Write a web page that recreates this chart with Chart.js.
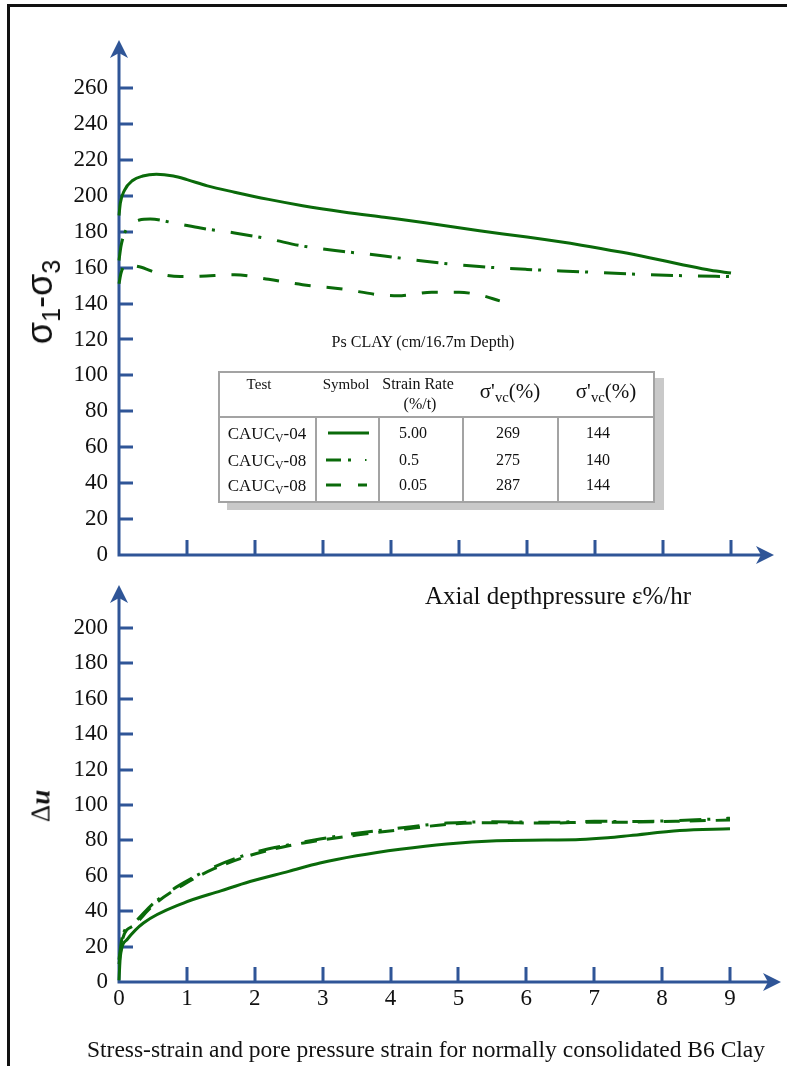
<!DOCTYPE html>
<html>
<head>
<meta charset="utf-8">
<script src="https://cdn.jsdelivr.net/npm/chart.js@4.4.0/dist/chart.umd.min.js"></script>
<style>
  html, body { margin: 0; padding: 0; background: #fff; }
  #page { position: relative; width: 787px; height: 1066px; overflow: hidden; font-family: "Liberation Serif", "DejaVu Serif", serif; color: #111; }
  #frame { position: absolute; left: 7px; top: 4px; width: 800px; height: 1100px; border-left: 3px solid #111; border-top: 3px solid #111; }
  canvas { position: absolute; left: 0; }
  .t { position: absolute; transform: translate(-50%, -50%); white-space: nowrap; line-height: 1; }
  .ln { position: absolute; background: #a3a3a3; }
  #legendBox { position: absolute; left: 218px; top: 371px; width: 437px; height: 132px; box-sizing: border-box; border: 2px solid #a3a3a3; background: #fff; box-shadow: 9px 7px 0 #c9c9c9; }
  sub { font-size: 0.7em; vertical-align: -0.3em; line-height: 0; }
</style>
</head>
<body>
<div id="page">
  <div id="frame"></div>
  <canvas id="stressChart" width="787" height="580" style="top:0"></canvas>
  <canvas id="poreChart" width="787" height="486" style="top:580px"></canvas>

  <!-- axis titles -->
  <div class="t" style="left:40px;top:302px;transform:translate(-50%,-50%) rotate(-90deg);font-size:36px;font-family:'Liberation Sans',sans-serif;">σ<sub>1</sub>-σ<sub>3</sub></div>
  <div class="t" style="left:41px;top:806px;transform:translate(-50%,-50%) rotate(-90deg);font-size:27px;">Δ<b><i>u</i></b></div>
  <div class="t" style="left:558px;top:595px;font-size:25px;">Axial depthpressure ε%/hr</div>
  <div class="t" style="left:423px;top:342px;font-size:16px;">Ps CLAY (cm/16.7m Depth)</div>
  <div class="t" style="left:426px;top:1050px;font-size:23.5px;">Stress-strain and pore pressure strain for normally consolidated B6 Clay</div>

  <!-- test legend table -->
  <div id="legendBox"></div>
  <div class="ln" style="left:220px;top:416px;width:433px;height:2px"></div>
  <div class="ln" style="left:315px;top:418px;width:2px;height:83px"></div>
  <div class="ln" style="left:378px;top:418px;width:2px;height:83px"></div>
  <div class="ln" style="left:462px;top:418px;width:2px;height:83px"></div>
  <div class="ln" style="left:557px;top:418px;width:2px;height:83px"></div>
  <div id="legendText"></div>
  <svg style="position:absolute;left:0;top:0" width="787" height="1066">
    <g stroke="#0a6a0a" stroke-width="3">
      <line x1="328" y1="433" x2="369" y2="433"/>
      <line x1="326" y1="460" x2="341" y2="460"/>
      <line x1="348" y1="460" x2="351" y2="460"/>
      <line x1="365" y1="460" x2="366.5" y2="460" stroke-width="2"/>
      <line x1="326" y1="485" x2="341" y2="485"/>
      <line x1="358" y1="485" x2="367" y2="485"/>
    </g>
  </svg>
</div>

<script>
// stress difference σ1-σ3 vs axial strain
const strainRate500X = [0, 0.02, 0.08, 0.2, 0.35, 0.55, 0.8, 1.0, 1.3, 1.7, 2.2, 2.7, 3.3, 3.9, 4.5, 5.3, 6.0, 6.8, 7.4, 7.8, 8.3, 8.7, 9.0];
const strainRate500Y = [189, 196, 203, 208.5, 211, 212, 211, 209, 205.5, 202, 198, 194.5, 191, 188, 185, 180.5, 177, 172.5, 168.5, 165.5, 161.5, 158.5, 157];
const strainRate05X = [0, 0.03, 0.08, 0.19, 0.3, 0.46, 0.85, 1.2, 1.7, 2.2, 2.7, 3.3, 3.9, 4.5, 5.3, 6.0, 6.8, 7.5, 8.3, 9.0];
const strainRate05Y = [164, 172, 179, 184.5, 186.5, 187, 184.5, 182, 179.3, 176, 172, 169, 166.5, 163.5, 160.6, 159, 157.7, 156.5, 155.5, 155];
const strainRate005X = [0, 0.03, 0.1, 0.3, 0.6, 0.9, 1.2, 1.7, 2.2, 2.7, 3.3, 3.8, 4.1, 4.6, 5.0, 5.3, 5.6];
const strainRate005Y = [151, 157, 161.5, 160.5, 156.5, 155, 155.2, 156, 153.5, 150.5, 148, 145, 144.3, 146.3, 146.3, 144.8, 141.5];

// pore pressure Δu vs axial strain
const poreRate500X = [0, 0.02, 0.12, 0.36, 0.95, 1.5, 1.93, 2.5, 2.96, 3.5, 4.14, 4.83, 5.56, 6.3, 6.79, 7.2, 7.52, 8.26, 9.0];
const poreRate500Y = [1, 14.5, 24, 33.3, 44.6, 51.5, 56.8, 62.5, 67.2, 71.3, 75, 78, 79.8, 80.2, 80.5, 81.5, 82.7, 85.6, 86.6];
const poreRate05X = [0, 0.05, 0.22, 0.51, 0.95, 1.4, 1.93, 2.5, 2.96, 3.5, 4.14, 4.83, 5.5, 6.3, 7.0, 7.52, 8.2, 9.0];
const poreRate05Y = [12.6, 25.8, 33.3, 44.6, 56, 65, 72.5, 77.5, 80.8, 84, 87, 89.8, 90.5, 90.2, 90.8, 90.7, 91.2, 92.5];
const poreRate005X = [0, 0.05, 0.22, 0.51, 0.95, 1.4, 1.93, 2.5, 2.96, 3.5, 4.14, 4.83, 5.5, 6.3, 7.0, 7.52, 8.2, 9.0];
const poreRate005Y = [10, 24, 32, 43.5, 55, 64, 71.5, 77, 80, 83, 86, 89, 90, 89.8, 90.3, 90.3, 90.8, 91.5];

// legend table rows
const testNames = ['CAUC', 'CAUC', 'CAUC'];
const testSuffix = ['-04', '-08', '-08'];
const strainRates = ['5.00', '0.5', '0.05'];
const sigmaVc1 = ['269', '275', '287'];
const sigmaVc2 = ['144', '140', '144'];

const green = '#0a6a0a';
const axisBlue = '#2f5597';
const tickFont = { family: 'Liberation Serif', size: 23 };

function toPoints(xs, ys) {
  return xs.map((v, i) => ({ x: v, y: ys[i] }));
}

function series(xs, ys, dash) {
  return {
    data: toPoints(xs, ys),
    borderColor: green,
    borderWidth: 3,
    borderDash: dash,
    pointRadius: 0,
    fill: false,
    cubicInterpolationMode: 'monotone',
    clip: false
  };
}

// axes with arrow heads and inward ticks
const axisArrows = {
  id: 'axisArrows',
  beforeDatasetsDraw(chart, args, opts) {
    const { ctx, scales: { x, y } } = chart;
    const x0 = x.getPixelForValue(0);
    const y0 = y.getPixelForValue(0);
    ctx.save();
    ctx.strokeStyle = axisBlue;
    ctx.fillStyle = axisBlue;
    ctx.lineWidth = 3;
    ctx.beginPath();
    ctx.moveTo(x0, y0 + 1.5);
    ctx.lineTo(x0, opts.yTip + 10);
    ctx.moveTo(x0 - 1.5, y0);
    ctx.lineTo(opts.xTip - 10, y0);
    y.ticks.forEach(t => {
      if (t.value === 0) return;
      const py = Math.round(y.getPixelForValue(t.value));
      ctx.moveTo(x0, py);
      ctx.lineTo(x0 + 14, py);
    });
    x.ticks.forEach(t => {
      if (t.value === 0) return;
      const px = Math.round(x.getPixelForValue(t.value));
      ctx.moveTo(px, y0);
      ctx.lineTo(px, y0 - 15);
    });
    ctx.stroke();

    // up arrow
    let tip = opts.yTip;
    ctx.beginPath();
    ctx.moveTo(x0, tip);
    ctx.lineTo(x0 + 9, tip + 18);
    ctx.lineTo(x0, tip + 13);
    ctx.lineTo(x0 - 9, tip + 18);
    ctx.closePath();
    ctx.fill();
    // right arrow
    tip = opts.xTip;
    ctx.beginPath();
    ctx.moveTo(tip, y0);
    ctx.lineTo(tip - 18, y0 - 9);
    ctx.lineTo(tip - 13, y0);
    ctx.lineTo(tip - 18, y0 + 9);
    ctx.closePath();
    ctx.fill();
    ctx.restore();
  }
};

function makeChart(id, datasets, yMax, showX, pad, xHeight, xTip, yTip) {
  return new Chart(document.getElementById(id), {
    type: 'line',
    data: { datasets },
    plugins: [axisArrows],
    options: {
      responsive: false,
      animation: false,
      devicePixelRatio: 1,
      layout: { padding: pad },
      plugins: {
        legend: { display: false },
        tooltip: { enabled: false },
        axisArrows: { xTip, yTip }
      },
      scales: {
        x: {
          type: 'linear', min: 0, max: 9,
          grid: { display: false, drawTicks: false },
          border: { display: false },
          ticks: { display: showX, stepSize: 1, font: tickFont, color: '#111', padding: 3, maxRotation: 0 },
          afterFit(s) { s.height = xHeight; }
        },
        y: {
          min: 0, max: yMax,
          grid: { display: false, drawTicks: false },
          border: { display: false },
          ticks: { stepSize: 20, font: tickFont, color: '#111', padding: 11 },
          afterFit(s) { s.width = 119; }
        }
      }
    }
  });
}

makeChart('stressChart', [
  series(strainRate500X, strainRate500Y, []),
  series(strainRate05X, strainRate05Y, [22, 6, 3, 16]),
  series(strainRate005X, strainRate005Y, [16, 16])
], 260, false, { left: 0, top: 88, right: 56, bottom: 0 }, 25, 774, 40);

makeChart('poreChart', [
  series(poreRate500X, poreRate500Y, []),
  series(poreRate05X, poreRate05Y, [22, 6, 3, 16]),
  series(poreRate005X, poreRate005Y, [16, 10])
], 200, true, { left: 0, top: 48, right: 57, bottom: 0 }, 84, 781, 5);

// legend table text
const cells = [];
function put(x, y, size, html) {
  cells.push(`<div class="t" style="left:${x}px;top:${y}px;font-size:${size}px">${html}</div>`);
}
put(259, 384, 15, 'Test');
put(346, 384, 15, 'Symbol');
put(418, 384, 16, 'Strain Rate');
put(420, 404, 16, '(%/t)');
put(510, 391, 21, "σ'<sub>vc</sub>(%)");
put(606, 391, 21, "σ'<sub>vc</sub>(%)");
const rowY = [433, 460, 485];
rowY.forEach((ry, i) => {
  put(267, ry, 17, `${testNames[i]}<sub>V</sub>${testSuffix[i]}`);
  cells.push(`<div class="t" style="left:399px;top:${ry}px;font-size:16px;transform:translateY(-50%)">${strainRates[i]}</div>`);
  put(508, ry, 16, sigmaVc1[i]);
  put(598, ry, 16, sigmaVc2[i]);
});
document.getElementById('legendText').innerHTML = cells.join('');
</script>
</body>
</html>
